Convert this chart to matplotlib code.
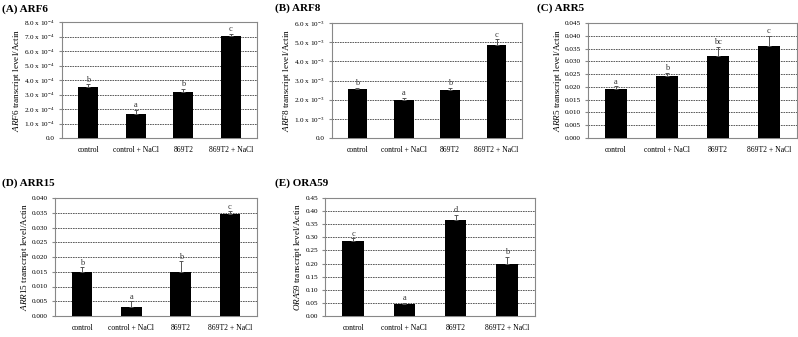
import numpy as np
import matplotlib.pyplot as plt
from matplotlib.ticker import FuncFormatter

plt.rcParams['font.family'] = ['Liberation Serif', 'DejaVu Serif']
plt.rcParams['mathtext.fontset'] = 'custom'
plt.rcParams['mathtext.rm'] = 'Liberation Serif'
plt.rcParams['mathtext.it'] = 'Liberation Serif:italic'

groups = ['control', 'control + NaCl', '869T2', '869T2 + NaCl']

# panel data: values, upper error, letters
arf6 = [3.5e-4, 1.65e-4, 3.2e-4, 7.05e-4]
arf6_err = [0.2e-4, 0.3e-4, 0.2e-4, 0.15e-4]
arf6_let = ['b', 'a', 'b', 'c']

arf8 = [2.55e-3, 2.0e-3, 2.5e-3, 4.85e-3]
arf8_err = [0.06e-3, 0.1e-3, 0.12e-3, 0.3e-3]
arf8_let = ['b', 'a', 'b', 'c']

arr5 = [0.019, 0.0243, 0.0322, 0.036]
arr5_err = [0.0012, 0.0012, 0.0035, 0.004]
arr5_let = ['a', 'b', 'bc', 'c']

arr15 = [0.015, 0.003, 0.015, 0.0345]
arr15_err = [0.0015, 0.002, 0.0035, 0.001]
arr15_let = ['b', 'a', 'b', 'c']

ora59 = [0.285, 0.045, 0.365, 0.198]
ora59_err = [0.012, 0.005, 0.02, 0.028]
ora59_let = ['c', 'a', 'd', 'b']

W, H = 798, 337
fig = plt.figure(figsize=(W / 100, H / 100), dpi=100)


def sci_fmt(exp):
    def f(v, pos):
        if abs(v) < 1e-12:
            return '0.0'
        return '%.1f x 10$^{%d}$' % (v / 10**exp, exp)
    return FuncFormatter(f)


def panel(box, title, tpos, gene, vals, errs, lets, ymax, step, fmt):
    l, r, t, b = box
    ax = fig.add_axes([l / W, (H - b) / H, (r - l) / W, (b - t) / H])
    x = np.arange(len(groups))
    ax.bar(x, vals, width=0.42, color='black', zorder=3)
    ax.errorbar(x, vals, yerr=[np.zeros(len(vals)), errs], fmt='none',
                ecolor='#555555', elinewidth=0.7, capsize=1.5, capthick=0.7, zorder=4)
    for xi, v, e, s in zip(x, vals, errs, lets):
        ax.text(xi, v + e + ymax * 0.005, s, ha='center', va='bottom', fontsize=6, color='#333333')
    ax.set_xlim(-0.55, 3.55)
    ax.set_ylim(0, ymax)
    ax.set_yticks(np.arange(0, ymax + step / 2, step))
    ax.yaxis.set_major_formatter(fmt)
    ax.set_xticks(x)
    ax.set_xticklabels(groups)
    ax.tick_params(axis='x', length=0, labelsize=5.5, pad=6)
    ax.tick_params(axis='y', length=2, labelsize=5.2, pad=3, color='#888888')
    ax.yaxis.grid(True, linestyle=(0, (2, 1)), color='#444444', linewidth=0.6, zorder=0)
    for sp in ax.spines.values():
        sp.set_color('#888888')
        sp.set_linewidth(0.8)
    ax.set_ylabel(r'$\mathit{%s}$ transcript level/Actin' % gene, fontsize=6.6, labelpad=1)
    fig.text(tpos[0] / W, 1 - tpos[1] / H, title, fontsize=8, fontweight='bold',
             ha='left', va='center')
    return ax


panel((62, 257, 22, 138), '(A) ARF6', (2, 9), 'ARF6', arf6, arf6_err, arf6_let,
      8e-4, 1e-4, sci_fmt(-4))
panel((332, 522, 23, 138), '(B) ARF8', (275, 8), 'ARF8', arf8, arf8_err, arf8_let,
      6e-3, 1e-3, sci_fmt(-3))
panel((588, 797, 23, 138), '(C) ARR5', (537, 8), 'ARR5', arr5, arr5_err, arr5_let,
      0.045, 0.005, FuncFormatter(lambda v, p: '%.3f' % v))
panel((55, 257, 198, 316), '(D) ARR15', (2, 183), 'ARR15', arr15, arr15_err, arr15_let,
      0.040, 0.005, FuncFormatter(lambda v, p: '%.3f' % v))
panel((325, 535, 198, 316), '(E) ORA59', (275, 183), 'ORA59', ora59, ora59_err, ora59_let,
      0.45, 0.05, FuncFormatter(lambda v, p: '%.2f' % v))

fig.savefig('out.png', dpi=100)
